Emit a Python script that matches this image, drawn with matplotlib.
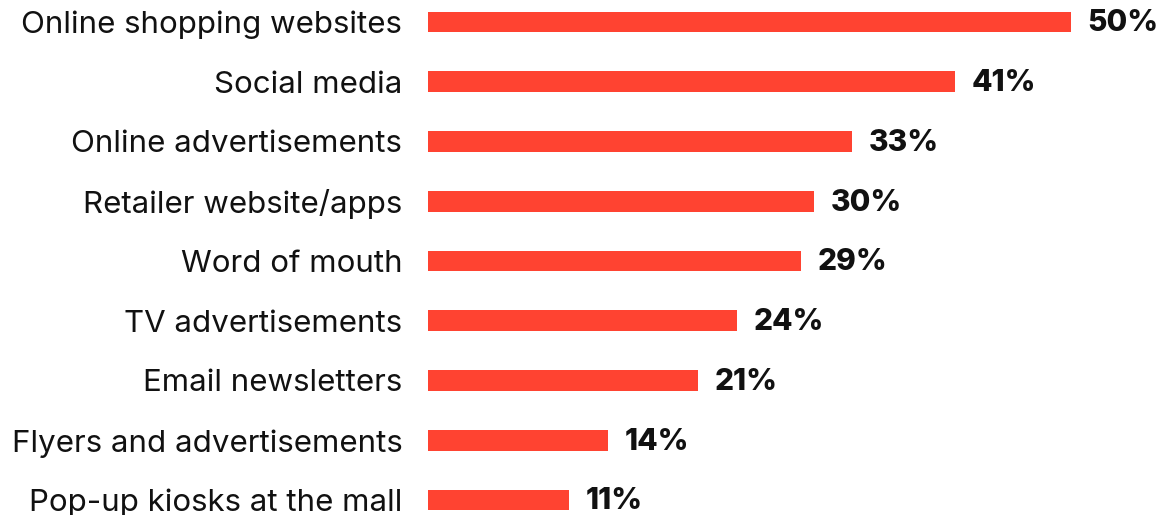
import matplotlib
matplotlib.use("Agg")
import matplotlib.pyplot as plt

# sources used, top to bottom
categories = [
    "Online shopping websites",
    "Social media",
    "Online advertisements",
    "Retailer website/apps",
    "Word of mouth",
    "TV advertisements",
    "Email newsletters",
    "Flyers and advertisements",
    "Pop-up kiosks at the mall",
]
shares = [50, 41, 33, 30, 29, 24, 21, 14, 11]

plt.rcParams['font.family'] = ['Inter', 'DejaVu Sans']

fig = plt.figure(figsize=(11.61, 5.15), dpi=100)
ax = fig.add_axes([428 / 1161, 0, 1 - 428 / 1161, 1])

pos = list(range(len(categories)))
ax.barh(pos, shares, height=0.35, color="#FF4331")

for p, v in zip(pos, shares):
    ax.annotate(f"{v}%", (v, p), xytext=(12, -1), textcoords="offset points",
                ha="left", va="center", fontsize=21.5, fontweight="heavy", color="#111111")

ax.set_yticks(pos)
ax.set_yticklabels(categories, fontsize=22.5, color="#111111")
ax.tick_params(axis="y", length=0, pad=18.5)
for lbl in ax.get_yticklabels():
    lbl.set_verticalalignment("center_baseline")
ax.set_xticks([])
ax.set_xlim(0, 733 / 12.86)
ax.set_ylim(8.251, -0.368)
for s in ax.spines.values():
    s.set_visible(False)

fig.savefig("out.png", dpi=100)
